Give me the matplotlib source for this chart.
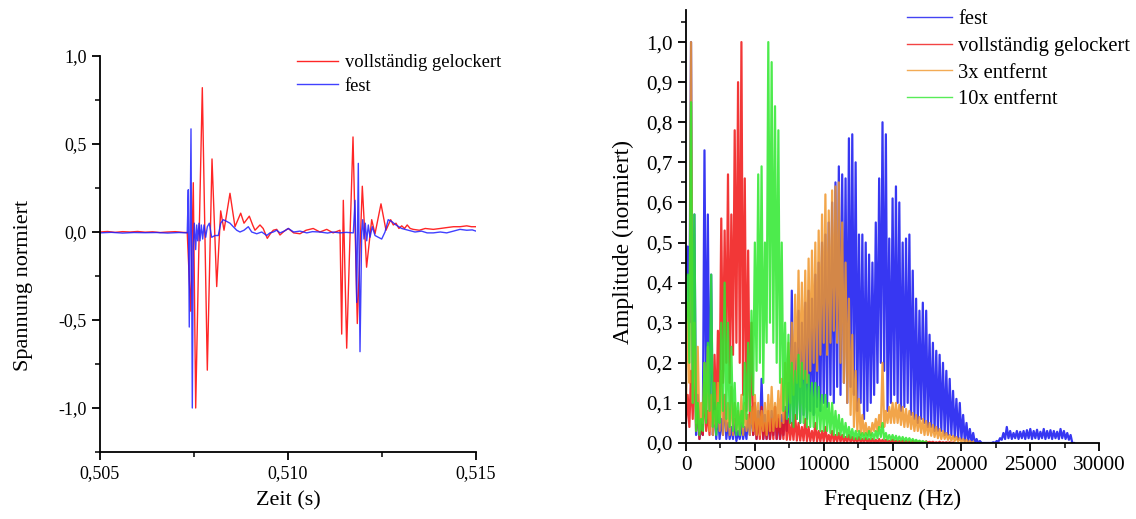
import numpy as np
import matplotlib
matplotlib.use("Agg")
import matplotlib.pyplot as plt
from matplotlib.ticker import MultipleLocator, FuncFormatter
from matplotlib.lines import Line2D

plt.rcParams['font.family'] = ['Liberation Serif', 'DejaVu Serif']

# ---------------- left panel: time signals (time in s, normalised voltage) ----------------
fest_t = [0.5050, 0.5053, 0.5056, 0.5059, 0.5062, 0.5065, 0.5068, 0.5071, 0.50732, 0.507348,
          0.507374, 0.507420, 0.507455, 0.507481, 0.507508, 0.507545, 0.507572, 0.507598, 0.507633, 0.507660,
          0.507694, 0.507731, 0.507766, 0.507811, 0.507854, 0.507907, 0.507971, 0.508059, 0.508146, 0.508210,
          0.508279, 0.508370, 0.508457, 0.508545, 0.508636, 0.508723, 0.508830, 0.508944, 0.509035, 0.509168,
          0.509301, 0.509434, 0.509520, 0.509609, 0.509700, 0.509787, 0.509900, 0.510008, 0.510150, 0.510319,
          0.510500, 0.510650, 0.510850, 0.511050, 0.511200, 0.511383, 0.511550, 0.511737, 0.511782, 0.511827,
          0.511870, 0.511915, 0.511960, 0.511987, 0.512021, 0.512056, 0.512093, 0.512136, 0.512181, 0.512242,
          0.512314, 0.512402, 0.512492, 0.512580, 0.512665, 0.512755, 0.512872, 0.513024, 0.513199, 0.513378,
          0.513550, 0.513700, 0.513864, 0.514050, 0.514221, 0.514400, 0.514574, 0.514753, 0.514900, 0.515000]
fest_v = [-0.005, -0.002, -0.006, -0.003, -0.004, -0.003, -0.006, -0.003, -0.005, 0.24,
          -0.54, 0.586, -1.0, -0.08, 0.05, -0.10, 0.04, -0.05, 0.05, -0.05,
          0.04, -0.04, 0.04, -0.03, 0.03, 0.05, -0.03, -0.02, -0.02, 0.05,
          0.07, 0.06, 0.05, 0.03, 0.01, 0.0, 0.01, 0.03, 0.0, -0.01,
          0.0, -0.02, -0.005, 0.0, 0.01, -0.005, 0.005, 0.02, 0.0, 0.005,
          -0.005, 0.002, 0.0, -0.006, 0.0, -0.005, -0.002, -0.005, 0.18, -0.40,
          0.39, -0.68, 0.0, 0.07, -0.04, 0.05, -0.05, 0.04, -0.03, 0.03,
          -0.02, -0.03, -0.04, 0.0, 0.07, 0.06, 0.04, 0.02, 0.01, 0.0,
          0.005, -0.005, -0.005, 0.0, -0.005, 0.005, 0.015, 0.01, 0.012, 0.005]

los_t = [0.5050, 0.5052, 0.5054, 0.5056, 0.5058, 0.5060, 0.5062, 0.5064, 0.5066, 0.5068,
         0.5070, 0.5072, 0.50732, 0.507412, 0.507481, 0.507545, 0.507614, 0.507721, 0.507854, 0.507979,
         0.508104, 0.508210, 0.508298, 0.508457, 0.508590, 0.508742, 0.508830, 0.508971, 0.509060, 0.509122,
         0.509255, 0.509340, 0.509449, 0.509530, 0.509609, 0.509700, 0.509787, 0.509900, 0.510008, 0.510150,
         0.510319, 0.510480, 0.510670, 0.510850, 0.511030, 0.511200, 0.511383, 0.511428, 0.511471, 0.511561,
         0.511630, 0.511729, 0.511843, 0.511976, 0.512090, 0.512226, 0.512314, 0.512473, 0.512606, 0.512731,
         0.512800, 0.512872, 0.512950, 0.513024, 0.513100, 0.513170, 0.513250, 0.513330, 0.513492, 0.513650,
         0.513864, 0.514050, 0.514221, 0.514400, 0.514574, 0.514753, 0.514880, 0.515000]
los_v = [0.0, 0.003, -0.002, 0.002, 0.0, 0.003, -0.001, 0.001, -0.003, 0.0,
         0.002, -0.002, -0.003, -0.45, 0.28, -1.0, -0.25, 0.82, -0.785, 0.415,
         -0.31, 0.12, 0.01, 0.22, 0.03, 0.107, 0.05, 0.09, 0.04, 0.01,
         0.04, 0.02, -0.036, -0.01, 0.01, 0.015, -0.017, 0.005, 0.02, -0.005,
         -0.01, 0.01, 0.02, 0.0, 0.015, -0.005, 0.01, -0.58, 0.18, -0.66,
         -0.16, 0.54, -0.52, 0.26, -0.20, 0.07, -0.01, 0.16, 0.01, 0.07,
         0.04, 0.05, 0.02, 0.035, 0.02, 0.04, 0.02, 0.015, 0.01, 0.02,
         0.015, 0.02, 0.025, 0.03, 0.03, 0.035, 0.03, 0.03]

# ---------------- right panel: spectra (peak / valley amplitudes, FFT bin step) ----------------
f_step = 122.0   # Hz between successive valley/peak samples

fest_peaks = [0.49, 1.00, 0.57, 0.12, 0.05, 0.73, 0.57, 0.42, 0.10, 0.08,
              0.06, 0.12, 0.05, 0.04, 0.06, 0.03, 0.05, 0.04, 0.07, 0.09,
              0.10, 0.08, 0.16, 0.07, 0.05, 0.08, 0.09, 0.06, 0.07, 0.09,
              0.15, 0.38, 0.25, 0.33, 0.30, 0.35, 0.38, 0.36, 0.42, 0.45,
              0.50, 0.52, 0.55, 0.60, 0.65, 0.69, 0.67, 0.66, 0.76, 0.77,
              0.70, 0.52, 0.52, 0.50, 0.47, 0.45, 0.55, 0.66, 0.80, 0.77,
              0.51, 0.61, 0.64, 0.60, 0.50, 0.51, 0.52, 0.43, 0.36, 0.33,
              0.35, 0.33, 0.27, 0.25, 0.23, 0.22, 0.20, 0.18, 0.16, 0.13,
              0.11, 0.10, 0.07, 0.05, 0.035, 0.025, 0.01, 0.005, 0.0, 0.0,
              0.0, 0.002, 0.005, 0.012, 0.025, 0.04, 0.03, 0.025, 0.03, 0.028,
              0.03, 0.032, 0.035, 0.03, 0.033, 0.028, 0.035, 0.03, 0.032, 0.03,
              0.028, 0.035, 0.03, 0.025, 0.02, 0.0]
fest_valleys = [0.42, 0.30, 0.10, 0.02, 0.01, 0.02, 0.08, 0.05, 0.02, 0.01,
                0.01, 0.02, 0.01, 0.01, 0.01, 0.005, 0.01, 0.01, 0.01, 0.02,
                0.02, 0.01, 0.02, 0.01, 0.01, 0.01, 0.02, 0.01, 0.01, 0.02,
                0.03, 0.05, 0.04, 0.06, 0.05, 0.07, 0.06, 0.08, 0.07, 0.09,
                0.08, 0.10, 0.09, 0.12, 0.10, 0.14, 0.12, 0.15, 0.10, 0.14,
                0.12, 0.08, 0.10, 0.06, 0.08, 0.10, 0.12, 0.15, 0.20, 0.18,
                0.08, 0.10, 0.12, 0.10, 0.08, 0.09, 0.10, 0.07, 0.06, 0.05,
                0.06, 0.05, 0.04, 0.04, 0.03, 0.03, 0.03, 0.02, 0.02, 0.02,
                0.015, 0.01, 0.01, 0.005, 0.003, 0.002, 0.0, 0.0, 0.0, 0.0,
                0.0, 0.0, 0.0, 0.003, 0.008, 0.01, 0.012, 0.01, 0.012, 0.01,
                0.012, 0.01, 0.012, 0.01, 0.012, 0.01, 0.012, 0.01, 0.012, 0.01,
                0.012, 0.01, 0.012, 0.01, 0.008, 0.0]

los_peaks = [0.12, 0.18, 0.24, 0.10, 0.06, 0.15, 0.08, 0.12, 0.22, 0.28,
             0.56, 0.53, 0.67, 0.57, 0.78, 0.90, 1.00, 0.66, 0.48, 0.30,
             0.10, 0.06, 0.09, 0.05, 0.08, 0.06, 0.09, 0.07, 0.05, 0.08,
             0.06, 0.05, 0.07, 0.05, 0.04, 0.06, 0.04, 0.03, 0.05, 0.03,
             0.03, 0.04, 0.02, 0.03, 0.02, 0.025, 0.02, 0.015, 0.02, 0.015,
             0.012, 0.015, 0.01, 0.012, 0.01, 0.01, 0.008, 0.01, 0.008, 0.008,
             0.006, 0.008, 0.006, 0.005, 0.006, 0.005, 0.004, 0.005, 0.004, 0.004,
             0.003, 0.004, 0.003, 0.003, 0.002, 0.003, 0.002, 0.002, 0.002, 0.001]
los_valleys = [0.05, 0.04, 0.06, 0.03, 0.01, 0.02, 0.03, 0.02, 0.04, 0.05,
               0.10, 0.15, 0.20, 0.15, 0.22, 0.25, 0.20, 0.12, 0.08, 0.05,
               0.02, 0.01, 0.01, 0.01, 0.01, 0.01, 0.01, 0.01, 0.01, 0.01,
               0.008, 0.008, 0.008, 0.006, 0.006, 0.006, 0.005, 0.005, 0.005, 0.004,
               0.004, 0.004, 0.003, 0.003, 0.003, 0.003, 0.003, 0.002, 0.002, 0.002,
               0.002, 0.002, 0.002, 0.002, 0.002, 0.001, 0.001, 0.001, 0.001, 0.001,
               0.001, 0.001, 0.001, 0.001, 0.001, 0.001, 0.001, 0.001, 0.001, 0.001,
               0.001, 0.001, 0.001, 0.001, 0.0, 0.0, 0.0, 0.0, 0.0, 0.0]

e3_peaks = [0.35, 1.00, 0.30, 0.24, 0.10, 0.20, 0.24, 0.12, 0.08, 0.15,
            0.18, 0.12, 0.10, 0.14, 0.10, 0.08, 0.12, 0.10, 0.07, 0.09,
            0.12, 0.10, 0.08, 0.10, 0.12, 0.14, 0.10, 0.13, 0.16, 0.20,
            0.25, 0.30, 0.37, 0.43, 0.40, 0.43, 0.46, 0.48, 0.50, 0.53,
            0.57, 0.62, 0.58, 0.63, 0.64, 0.65, 0.55, 0.45, 0.36, 0.27,
            0.18, 0.11, 0.07, 0.05, 0.04, 0.05, 0.06, 0.07, 0.20, 0.08,
            0.09, 0.10, 0.10, 0.095, 0.09, 0.085, 0.08, 0.075, 0.07, 0.065,
            0.06, 0.055, 0.05, 0.045, 0.04, 0.035, 0.03, 0.025, 0.02, 0.018,
            0.015, 0.012, 0.01, 0.008, 0.005, 0.003]
e3_valleys = [0.10, 0.15, 0.10, 0.05, 0.03, 0.05, 0.06, 0.03, 0.02, 0.04,
              0.03, 0.02, 0.03, 0.02, 0.02, 0.03, 0.02, 0.02, 0.03, 0.02,
              0.03, 0.02, 0.02, 0.03, 0.02, 0.03, 0.03, 0.04, 0.04, 0.05,
              0.08, 0.10, 0.12, 0.15, 0.14, 0.16, 0.15, 0.18, 0.20, 0.18,
              0.22, 0.25, 0.22, 0.25, 0.28, 0.25, 0.20, 0.15, 0.10, 0.07,
              0.04, 0.03, 0.02, 0.02, 0.02, 0.02, 0.03, 0.03, 0.04, 0.04,
              0.05, 0.05, 0.05, 0.05, 0.045, 0.04, 0.04, 0.035, 0.03, 0.03,
              0.025, 0.02, 0.02, 0.018, 0.015, 0.012, 0.01, 0.01, 0.008, 0.006,
              0.005, 0.004, 0.003, 0.002, 0.001, 0.0]

e10_peaks = [0.42, 0.85, 0.57, 0.10, 0.06, 0.20, 0.25, 0.42, 0.15, 0.10,
             0.30, 0.40, 0.30, 0.24, 0.15, 0.10, 0.08, 0.20, 0.25, 0.33,
             0.50, 0.67, 0.69, 0.50, 1.00, 0.95, 0.84, 0.78, 0.50, 0.30,
             0.27, 0.20, 0.18, 0.22, 0.20, 0.18, 0.17, 0.15, 0.15, 0.14,
             0.12, 0.12, 0.10, 0.10, 0.08, 0.07, 0.06, 0.05, 0.04, 0.035,
             0.03, 0.03, 0.025, 0.025, 0.03, 0.025, 0.03, 0.04, 0.05, 0.025,
             0.02, 0.02, 0.018, 0.016, 0.015, 0.013, 0.012, 0.01, 0.008, 0.006,
             0.005, 0.003]
e10_valleys = [0.30, 0.20, 0.10, 0.03, 0.02, 0.03, 0.05, 0.08, 0.04, 0.02,
               0.05, 0.08, 0.06, 0.04, 0.03, 0.02, 0.02, 0.04, 0.06, 0.08,
               0.12, 0.18, 0.20, 0.15, 0.25, 0.30, 0.25, 0.20, 0.15, 0.08,
               0.06, 0.05, 0.04, 0.06, 0.05, 0.05, 0.04, 0.04, 0.04, 0.035,
               0.03, 0.03, 0.03, 0.025, 0.02, 0.02, 0.02, 0.015, 0.015, 0.012,
               0.01, 0.01, 0.01, 0.01, 0.01, 0.01, 0.01, 0.012, 0.015, 0.01,
               0.008, 0.008, 0.007, 0.006, 0.006, 0.005, 0.005, 0.004, 0.003, 0.003,
               0.002, 0.001]


def spectrum(peaks, valleys):
    amp = np.empty(2 * len(peaks))
    amp[0::2] = valleys
    amp[1::2] = peaks
    freq = np.arange(len(amp)) * f_step
    return freq, amp


fig = plt.figure(figsize=(11.36, 5.19), dpi=100)

# ---------------- left axes ----------------
axL = fig.add_axes([100 / 1136, 1 - 452 / 519, 376 / 1136, 396 / 519])
axL.plot(los_t, los_v, color='#ff0000', lw=1.0, alpha=0.85, label='vollständig gelockert')
axL.plot(fest_t, fest_v, color='#1f1fff', lw=1.0, alpha=0.85, label='fest')
axL.set_xlim(0.505, 0.515)
axL.set_ylim(-1.25, 1.0)
axL.xaxis.set_major_locator(MultipleLocator(0.005))
axL.xaxis.set_minor_locator(MultipleLocator(0.0025))
axL.yaxis.set_major_locator(MultipleLocator(0.5))
axL.yaxis.set_minor_locator(MultipleLocator(0.25))
axL.xaxis.set_major_formatter(FuncFormatter(lambda v, p: f"{v:.3f}".replace('.', ',')))
axL.yaxis.set_major_formatter(FuncFormatter(lambda v, p: f"{round(v, 2) + 0.0:.1f}".replace('.', ',')))
axL.set_xlabel('Zeit (s)', fontsize=16)
axL.set_ylabel('Spannung normiert', fontsize=16)
axL.xaxis.set_label_coords(0.5, -0.10)
axL.yaxis.set_label_coords(-0.177, 0.42)
axL.legend(loc='upper left', bbox_to_anchor=(0.525, 1.005), frameon=False, fontsize=13.3,
           handlelength=2.2, handletextpad=0.35, labelspacing=0.36, borderpad=0, borderaxespad=0)

# ---------------- right axes ----------------
axR = fig.add_axes([686 / 1136, 1 - 443 / 519, 413 / 1136, 433 / 519])
series = [
    (fest_peaks, fest_valleys, '#1414f0', 'fest'),
    (los_peaks, los_valleys, '#f01414', 'vollständig gelockert'),
    (e3_peaks, e3_valleys, '#f0962a', '3x entfernt'),
    (e10_peaks, e10_valleys, '#2ee82e', '10x entfernt'),
]
for pk, vl, col, lab in series:
    f, a = spectrum(pk, vl)
    axR.plot(f, a, color=col, lw=1.6, alpha=0.85, label=lab)
axR.set_xlim(0, 30000)
axR.set_ylim(0, 1.08)
axR.xaxis.set_major_locator(MultipleLocator(5000))
axR.xaxis.set_minor_locator(MultipleLocator(2500))
axR.yaxis.set_major_locator(MultipleLocator(0.1))
axR.yaxis.set_minor_locator(MultipleLocator(0.05))
axR.xaxis.set_major_formatter(FuncFormatter(lambda v, p: f"{v:.0f}"))
axR.yaxis.set_major_formatter(FuncFormatter(lambda v, p: f"{round(v, 2) + 0.0:.1f}".replace('.', ',')))
axR.set_xlabel('Frequenz (Hz)', fontsize=17)
axR.set_ylabel('Amplitude (normiert)', fontsize=17)
axR.xaxis.set_label_coords(0.5, -0.105)
axR.yaxis.set_label_coords(-0.125, 0.465)
handles = [Line2D([], [], color=c, lw=1.0, alpha=0.8) for _, _, c, _ in series]
axR.legend(handles, [s[3] for s in series], loc='upper left', bbox_to_anchor=(0.535, 1.0),
           frameon=False, fontsize=14.8, handlelength=2.2, handletextpad=0.3,
           labelspacing=0.35, borderpad=0, borderaxespad=0)

for ax, fs in ((axL, 13), (axR, 15.3)):
    for side in ('top', 'right'):
        ax.spines[side].set_visible(False)
    for side in ('left', 'bottom'):
        ax.spines[side].set_linewidth(1.3)
    ax.tick_params(which='major', direction='out', length=6, width=1.3, labelsize=fs)
    ax.tick_params(which='minor', direction='out', length=3.5, width=1.1)

fig.savefig('out.png', dpi=100, facecolor='white')
